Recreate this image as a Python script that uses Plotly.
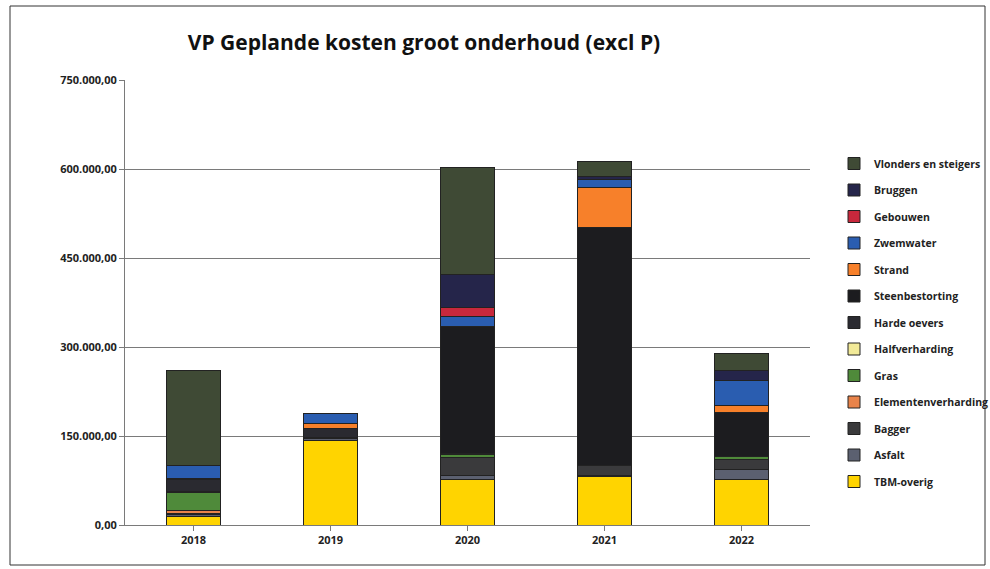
import plotly.graph_objects as go

years = ["2018", "2019", "2020", "2021", "2022"]

tbm_overig = [15000, 143000, 76000, 81000, 76000]
asfalt = [3000, 2000, 8000, 3000, 17000]
bagger = [2000, 0, 30000, 17000, 17000]
elementenverharding = [4000, 0, 0, 0, 0]
gras = [30000, 0, 4000, 0, 5000]
halfverharding = [2000, 3000, 3000, 0, 0]
harde_oevers = [20000, 15000, 0, 0, 0]
steenbestorting = [0, 0, 214000, 401000, 74000]
strand = [3000, 8500, 0, 67000, 13000]
zwemwater = [22000, 17000, 17000, 13000, 42000]
gebouwen = [0, 0, 15000, 0, 0]
bruggen = [0, 0, 56000, 5000, 17000]
vlonders = [160000, 0, 180000, 25000, 28000]

series = [
    ("TBM-overig", tbm_overig, "#FFD400"),
    ("Asfalt", asfalt, "#5B6070"),
    ("Bagger", bagger, "#3A3A3C"),
    ("Elementenverharding", elementenverharding, "#E8834A"),
    ("Gras", gras, "#4F8A3A"),
    ("Halfverharding", halfverharding, "#F2EA98"),
    ("Harde oevers", harde_oevers, "#2A2A30"),
    ("Steenbestorting", steenbestorting, "#1C1C1F"),
    ("Strand", strand, "#F7802A"),
    ("Zwemwater", zwemwater, "#2A5DB0"),
    ("Gebouwen", gebouwen, "#C8283C"),
    ("Bruggen", bruggen, "#25254A"),
    ("Vlonders en steigers", vlonders, "#3F4A35"),
]

W, H = 990, 569
PL, PR, PT, PB = 125, 810, 80, 525
PW, PH = PR - PL, PB - PT

fig = go.Figure()
for i, (name, vals, col) in enumerate(series):
    fig.add_trace(go.Bar(
        x=years, y=vals, name=name, legendgroup=name, legendrank=1000 - i,
        marker=dict(color=col, line=dict(color="#222222", width=1)),
        width=0.4,
    ))

fig.update_layout(
    barmode="stack",
    width=W, height=H,
    margin=dict(l=PL, r=W - PR, t=PT, b=H - PB, autoexpand=False),
    paper_bgcolor="white", plot_bgcolor="white",
    separators=",.",
    font=dict(family="Open Sans", color="#222222"),
    title=dict(
        text="<b>VP Geplande kosten groot onderhoud (excl P)</b>",
        x=424 / W, xanchor="center", xref="container",
        y=1 - 43 / H, yanchor="middle", yref="container",
        font=dict(size=21, family="Open Sans", color="#111111"),
    ),
    legend=dict(
        x=(834 - PL) / PW, y=(PB - 149) / PH,
        xanchor="left", yanchor="top",
        traceorder="grouped", tracegroupgap=7.5,
        font=dict(size=10.5, family="Open Sans", color="#222222", weight="bold"),
        itemwidth=30, bgcolor="rgba(0,0,0,0)",
    ),
    showlegend=True,
)

fig.update_yaxes(
    range=[0, 750000], dtick=150000, tickformat=",.2f",
    showgrid=True, gridcolor="#7a7a7a", gridwidth=1,
    showline=True, linecolor="#7a7a7a", linewidth=1,
    ticks="outside", ticklen=5, tickcolor="#7a7a7a",
    tickfont=dict(size=11, family="Open Sans", color="#222222", weight="bold"),
    zeroline=False,
)
fig.update_xaxes(
    showline=True, linecolor="#7a7a7a", linewidth=1,
    ticks="outside", ticklen=5, tickcolor="#7a7a7a",
    tickfont=dict(size=11, family="Open Sans", color="#222222", weight="bold"),
)

fig.add_shape(type="rect", xref="paper", yref="paper",
              x0=(10 - PL) / PW, x1=(985 - PL) / PW,
              y0=(PB - 565) / PH, y1=(PB - 6) / PH,
              line=dict(color="#333333", width=1), fillcolor="rgba(0,0,0,0)", layer="below")

fig.write_html(
    "out.html",
    config={"displayModeBar": False},
    post_script="document.body.style.margin='0';document.body.style.padding='0';document.body.style.overflow='hidden';",
)
